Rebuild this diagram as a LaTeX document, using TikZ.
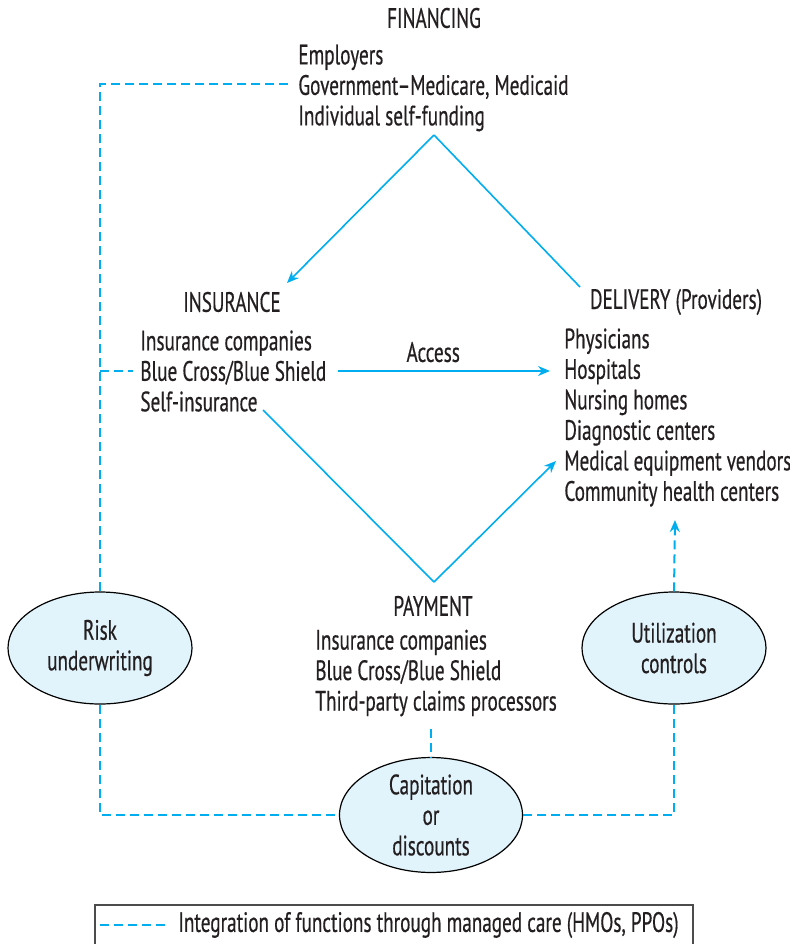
\documentclass[tikz,border=0pt]{standalone}
\usepackage{fontspec}
\setmainfont[FakeStretch=0.685,FakeBold=0.5]{PT Sans}
\usetikzlibrary{positioning,shapes.geometric,arrows.meta}
\definecolor{mcblue}{HTML}{00AEEF}
\definecolor{mcfill}{HTML}{E1F3FB}
\definecolor{mctext}{HTML}{231F20}

\begin{document}
\begin{tikzpicture}[x=0.5pt,y=-0.5pt,
	every node/.style={text=mctext,font=\fontsize{14}{15.25}\selectfont,inner sep=0pt},
	lst/.style={align=left},
	flow/.style={mcblue,line width=0.8pt},
	mc/.style={mcblue,line width=1pt,dash pattern=on 4.5pt off 2.5pt},
	tip/.style={-{Stealth[length=6pt,width=5pt]}},
	oval/.style={ellipse,draw=black,fill=mcfill,line width=0.6pt,align=center,
		minimum width=92pt,minimum height=56pt}]
	\useasboundingbox (0,0) rectangle (789,944);
	% the four functions
		\node (finhead) at (434,18) {FINANCING};
		\node[lst, anchor=west] (finlist) at (298,88) {Employers\\Government--Medicare, Medicaid\\Individual self-funding};
		\node (inshead) at (232,302) {INSURANCE};
		\node[lst, anchor=west] (inslist) at (140,371) {Insurance companies\\Blue Cross/Blue Shield\\Self-insurance};
		\node (delhead) at (676,302) {DELIVERY (Providers)};
		\node[lst, anchor=west] (dellist) at (564,417.5) {Physicians\\Hospitals\\Nursing homes\\Diagnostic centers\\Medical equipment vendors\\Community health centers};
		\node (payhead) at (433,606) {PAYMENT};
		\node[lst, anchor=west] (paylist) at (315,673) {Insurance companies\\Blue Cross/Blue Shield\\Third-party claims processors};
	% managed care
		\node[oval] (risk) at (100,648) {Risk\\underwriting};
		\node[oval] (util) at (674,648) {Utilization\\controls};
		\node[oval, minimum width=91.5pt, minimum height=57pt] (capit) at (431,815) {Capitation\\or\\discounts};
	% flows
		\coordinate (finapex) at (434,135);
		\coordinate (insin) at (287,283);
		\coordinate (delin) at (580,287);
		\coordinate (paystart) at (263,410);
		\coordinate (payapex) at (434,582);
		\coordinate (payend) at (556,461);
		\coordinate (finjoin) at (290,84);
		\coordinate (utilin) at (675,520);
			\draw[flow,tip] (finapex) -- (insin);
			\draw[flow] (finapex) -- (delin);
			\draw[flow,tip] ([xshift=5.5pt]inslist.east) -- ([xshift=-7pt]dellist.west |- inslist.east) node[pos=0.45, above=4pt] {Access};
			\draw[flow] (paystart) -- (payapex);
			\draw[flow,tip] (payapex) -- (payend);
	% integration
			\draw[mc] (risk.north) -- (risk.north |- finjoin) -- (finjoin);
			\draw[mc] (risk.north |- inslist.west) -- ([xshift=-3.5pt]inslist.west);
			\draw[mc] (risk.south) -- (risk.south |- capit.west) -- (capit.west);
			\draw[mc] (capit.east) -- (util.south |- capit.east) -- (util.south);
			\draw[mc,tip] (util.north) -- (utilin);
			\draw[mc] ([yshift=-6pt]capit.north |- paylist.south) -- (capit.north);
	% legend
		\draw[black!70,line width=0.8pt] (95,905) rectangle (693,952);
		\coordinate (legl) at (100,925);
		\coordinate (legr) at (170,925);
			\draw[mc] (legl) -- (legr);
		\node[anchor=west] (legtext) at (178,925) {Integration of functions through managed care (HMOs, PPOs)};
\end{tikzpicture}
\end{document}
